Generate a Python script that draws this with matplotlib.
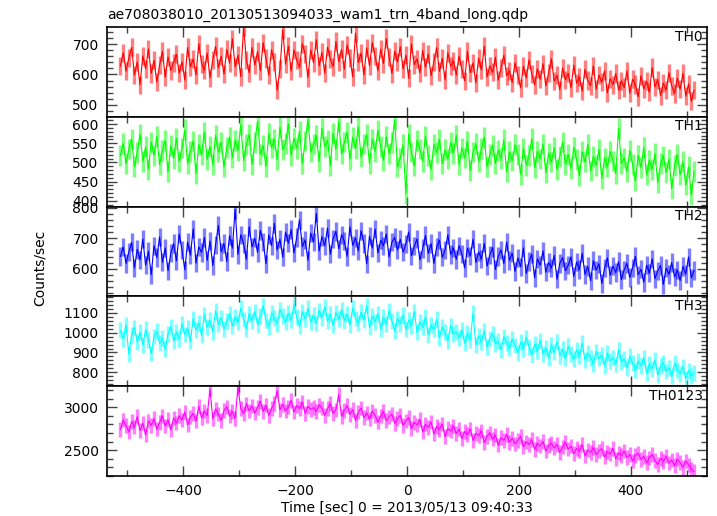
import numpy as np
import matplotlib.pyplot as plt
from matplotlib.ticker import MultipleLocator

plt.rcParams['font.family'] = 'DejaVu Sans'
plt.rcParams['font.size'] = 10

# time bins (sec), 0 = 2013/05/13 09:40:33
t = np.arange(-512, 514, 5)

th0 = [628, 672, 611, 655, 690, 598, 641, 566, 662, 619, 684, 603, 647, 575, 631, 676, 592, 658, 613, 639,
       667, 604, 642, 581, 689, 625, 651, 598, 702, 636, 614, 671, 589, 648, 693, 622, 660, 601, 683, 637,
       718, 625, 664, 593, 757, 648, 606, 689, 631, 676, 612, 705, 653, 598, 682, 640, 548, 617, 748, 634,
       694, 611, 681, 648, 623, 702, 667, 590, 681, 639, 715, 628, 673, 604, 690, 651, 626, 709, 642, 683,
       617, 698, 655, 592, 737, 640, 671, 598, 688, 629, 705, 661, 612, 684, 636, 719, 658, 603, 677, 641,
       692, 618, 664, 587, 701, 633, 652, 605, 679, 624, 668, 596, 641, 689, 610, 653, 582, 672, 627, 645,
       598, 661, 617, 579, 676, 606, 638, 572, 654, 615, 693, 592, 628, 607, 657, 581, 621, 664, 596, 612,
       573, 639, 598, 556, 627, 589, 648, 601, 566, 619, 584, 636, 562, 604, 652, 578, 597, 549, 621, 583,
       604, 556, 631, 571, 592, 545, 617, 580, 563, 628, 551, 598, 574, 612, 539, 586, 566, 603, 548, 579,
       557, 612, 538, 584, 567, 526, 596, 552, 578, 541, 623, 559, 583, 530, 571, 548, 606, 562, 537, 588,
       551, 604, 528, 569, 512, 548]

th1 = [518, 549, 497, 535, 561, 489, 526, 574, 503, 541, 482, 553, 519, 568, 494, 532, 557, 476, 544, 511,
       563, 502, 538, 585, 497, 529, 556, 471, 547, 520, 579, 508, 542, 494, 571, 527, 553, 488, 539, 566,
       512, 558, 531, 599, 505, 547, 573, 495, 552, 608, 521, 544, 489, 576, 538, 561, 507, 592, 533, 549,
       601, 519, 563, 537, 582, 498, 556, 612, 527, 548, 571, 503, 589, 541, 558, 492, 577, 534, 607, 522,
       553, 579, 508, 566, 536, 593, 514, 548, 572, 497, 561, 529, 584, 541, 506, 567, 523, 552, 611, 488,
       512, 546, 419, 574, 527, 491, 558, 535, 503, 569, 518, 482, 547, 526, 561, 497, 533, 509, 552, 524,
       571, 495, 538, 512, 556, 479, 527, 549, 503, 536, 566, 488, 521, 545, 497, 532, 510, 559, 476, 528,
       504, 546, 521, 468, 537, 493, 518, 562, 487, 529, 509, 548, 473, 524, 501, 539, 482, 516, 553, 495,
       521, 484, 539, 507, 466, 528, 501, 547, 478, 515, 493, 534, 459, 512, 489, 529, 504, 471, 589, 497,
       512, 476, 531, 495, 452, 518, 487, 539, 468, 506, 482, 523, 447, 498, 517, 474, 509, 432, 493, 521,
       468, 502, 441, 489, 416, 477]

th2 = [641, 672, 618, 655, 687, 603, 664, 629, 698, 612, 658, 581, 676, 637, 705, 622, 669, 594, 651, 683,
       626, 714, 662, 597, 688, 645, 731, 619, 672, 654, 703, 628, 691, 611, 679, 742, 656, 683, 624, 709,
       668, 795, 647, 712, 683, 631, 738, 672, 701, 654, 726, 689, 617, 711, 676, 749, 662, 697, 638, 721,
       684, 729, 652, 703, 761, 673, 695, 628, 717, 688, 782, 659, 706, 676, 734, 648, 699, 723, 666, 712,
       691, 641, 738, 677, 702, 659, 725, 683, 617, 707, 668, 731, 652, 694, 676, 714, 639, 688, 703, 662,
       697, 655, 681, 721, 643, 674, 698, 629, 667, 709, 651, 683, 618, 672, 694, 638, 661, 712, 647, 669,
       631, 676, 649, 603, 668, 642, 697, 621, 655, 633, 684, 609, 646, 670, 598, 641, 662, 617, 688, 628,
       651, 592, 636, 607, 669, 585, 624, 648, 571, 633, 612, 659, 589, 621, 603, 644, 566, 618, 637, 594,
       612, 639, 575, 623, 598, 651, 582, 608, 561, 627, 596, 617, 552, 603, 636, 579, 609, 588, 624, 565,
       597, 618, 572, 604, 641, 581, 599, 556, 612, 587, 633, 568, 594, 611, 549, 603, 582, 621, 574, 596,
       562, 608, 583, 639, 571, 595]

th3 = [1012, 968, 1041, 893, 987, 1026, 954, 1003, 938, 1017, 962, 895, 981, 1008, 947, 972, 916, 994, 1031, 959,
       1002, 968, 1046, 991, 1023, 957, 1071, 1014, 1049, 986, 1092, 1028, 1063, 1005, 1111, 1042, 1076, 1019, 1058, 1097,
       1034, 1081, 1052, 1124, 1067, 1018, 1095, 1059, 1108, 1041, 1083, 1137, 1062, 1029, 1101, 1074, 1046, 1118, 1085, 1053,
       1099, 1063, 1141, 1078, 1032, 1106, 1071, 1124, 1055, 1089, 1047, 1113, 1076, 1131, 1058, 1093, 1037, 1102, 1069, 1117,
       1061, 1094, 1038, 1126, 1072, 1049, 1103, 1065, 1138, 1027, 1084, 1056, 1097, 1019, 1079, 1043, 1112, 1061, 1008, 1072,
       1046, 1091, 1017, 1063, 1035, 1108, 1002, 1054, 1027, 1079, 989, 1041, 1016, 1068, 974, 1029, 1003, 958, 1037, 992,
       1004, 975, 1014, 947, 998, 963, 1098, 938, 985, 954, 1009, 927, 971, 996, 942, 958, 913, 981, 946, 921,
       968, 935, 899, 952, 917, 976, 928, 887, 943, 906, 961, 892, 924, 873, 938, 901, 955, 884, 917, 869,
       931, 892, 866, 914, 879, 948, 861, 897, 873, 842, 905, 869, 886, 831, 897, 858, 874, 839, 912, 852,
       867, 823, 881, 846, 809, 858, 832, 874, 795, 843, 818, 862, 786, 831, 848, 804, 823, 779, 846, 811,
       792, 829, 768, 808, 781, 797]

th0123 = [2741, 2853, 2786, 2712, 2834, 2769, 2891, 2728, 2815, 2676, 2842, 2791, 2868, 2745, 2823, 2902, 2781, 2856, 2737, 2874,
          2818, 2903, 2852, 2946, 2795, 2887, 2931, 2839, 3012, 2876, 2958, 2904, 3214, 2867, 2982, 2921, 2849, 2963, 3008, 2897,
          2951, 2872, 3234, 2986, 2928, 3043, 2961, 3019, 2934, 2997, 3071, 2953, 3026, 2908, 2989, 3048, 3196, 2972, 3037, 2961,
          3004, 3082, 2946, 3021, 2987, 3063, 2931, 3012, 2978, 2998, 2952, 3031, 2993, 2907, 2986, 3044, 2929, 2971, 3149, 2896,
          2963, 3022, 2918, 2976, 2847, 2944, 2993, 2881, 2937, 2862, 2958, 2906, 2829, 2897, 2951, 2846, 2889, 2922, 2814, 2868,
          2907, 2788, 2843, 2882, 2751, 2826, 2794, 2859, 2712, 2803, 2765, 2831, 2689, 2777, 2742, 2806, 2658, 2751, 2724, 2783,
          2692, 2746, 2633, 2718, 2681, 2749, 2612, 2695, 2668, 2724, 2587, 2661, 2703, 2629, 2674, 2558, 2647, 2612, 2683, 2591,
          2638, 2574, 2612, 2661, 2539, 2597, 2566, 2623, 2509, 2578, 2546, 2601, 2487, 2553, 2581, 2524, 2568, 2472, 2537, 2592,
          2511, 2546, 2458, 2519, 2487, 2563, 2432, 2501, 2474, 2528, 2449, 2492, 2516, 2418, 2479, 2453, 2521, 2397, 2468, 2436,
          2489, 2412, 2451, 2374, 2438, 2463, 2391, 2427, 2352, 2409, 2446, 2378, 2331, 2402, 2367, 2429, 2346, 2385, 2318, 2393,
          2352, 2297, 2374, 2326, 2279, 2248]

bands = ['TH0', 'TH1', 'TH2', 'TH3', 'TH0123']
rates = [th0, th1, th2, th3, th0123]
errs = [30, 27, 30, 40, 85]
colors = ['#ff0000', '#00ff00', '#0000ff', '#00ffff', '#ff00ff']
ylims = [(460, 757), (385, 619), (510, 804), (729, 1184), (2196, 3249)]
majors = [100, 50, 100, 100, 500]
minors = [20, 10, 20, 20, 100]

fig, axes = plt.subplots(5, 1, sharex=True, figsize=(7.17, 5.16), dpi=100)
fig.subplots_adjust(left=107/717, right=707/717, top=1-27/516, bottom=1-476/516, hspace=0)

for ax, name, y, e, c, yl, mj, mn in zip(axes, bands, rates, errs, colors, ylims, majors, minors):
    y = np.array(y, dtype=float)
    ax.vlines(t, y - e, y + e, colors=c, alpha=0.5, lw=2.4)
    ax.plot(t, y, color=c, lw=0.8)
    ax.set_ylim(*yl)
    ax.yaxis.set_major_locator(MultipleLocator(mj))
    ax.yaxis.set_minor_locator(MultipleLocator(mn))
    ax.text(0.993, 0.97, name, transform=ax.transAxes, ha='right', va='top')
    ax.tick_params(which='both', direction='in', top=True, right=True, color='#444444', width=1)
    ax.tick_params(which='major', length=7, pad=6, labelsize=10)
    ax.tick_params(which='minor', length=4)
    for s in ax.spines.values():
        s.set_linewidth(1.2)

axes[-1].set_xlim(-536, 536)
axes[-1].xaxis.set_major_locator(MultipleLocator(200))
axes[-1].xaxis.set_minor_locator(MultipleLocator(100))
axes[-1].set_xlabel('Time [sec] 0 = 2013/05/13 09:40:33', labelpad=2)

fig.text(107/717, 1-15/516, 'ae708038010_20130513094033_wam1_trn_4band_long.qdp',
         ha='left', va='center')
fig.text(40/717, 1-268/516, 'Counts/sec', rotation=90, ha='center', va='center')

fig.savefig('out.png', dpi=100)
